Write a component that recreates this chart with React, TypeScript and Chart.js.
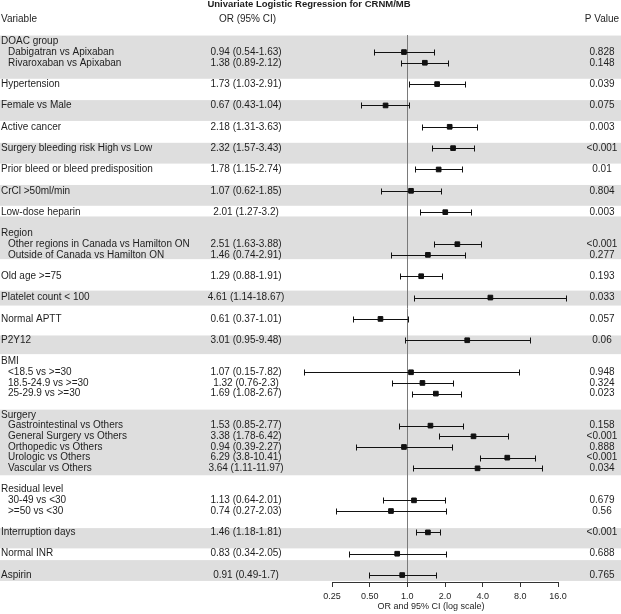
import React, { useEffect, useRef } from "react";
import { Chart, registerables } from "chart.js";

Chart.register(...registerables);

// ---------- DATA ----------
const chartTitle = "Univariate Logistic Regression for CRNM/MB";
const columnHeaders = ["Variable", "OR (95% CI)", "P Value"];
const axisTitle = "OR and 95% CI (log scale)";

const effectLabels = [
  "Dabigatran vs Apixaban",
  "Rivaroxaban vs Apixaban",
  "Hypertension",
  "Female vs Male",
  "Active cancer",
  "Surgery bleeding risk High vs Low",
  "Prior bleed or bleed predisposition",
  "CrCl >50ml/min",
  "Low-dose heparin",
  "Other regions in Canada vs Hamilton ON",
  "Outside of Canada vs Hamilton ON",
  "Old age >=75",
  "Platelet count < 100",
  "Normal APTT",
  "P2Y12",
  "<18.5 vs >=30",
  "18.5-24.9 vs >=30",
  "25-29.9 vs >=30",
  "Gastrointestinal vs Others",
  "General Surgery vs Others",
  "Orthopedic vs Others",
  "Urologic vs Others",
  "Vascular vs Others",
  "30-49 vs <30",
  ">=50 vs <30",
  "Interruption days",
  "Normal INR",
  "Aspirin",
];

const effectGroups: (string | null)[] = [
  "DOAC group", "DOAC group",
  null, null, null, null, null, null, null,
  "Region", "Region",
  null, null, null, null,
  "BMI", "BMI", "BMI",
  "Surgery", "Surgery", "Surgery", "Surgery", "Surgery",
  "Residual level", "Residual level",
  null, null, null,
];

const oddsRatios = [0.94, 1.38, 1.73, 0.67, 2.18, 2.32, 1.78, 1.07, 2.01, 2.51, 1.46, 1.29, 4.61, 0.61, 3.01, 1.07, 1.32, 1.69, 1.53, 3.38, 0.94, 6.29, 3.64, 1.13, 0.74, 1.46, 0.83, 0.91];
const ciLower = [0.54, 0.89, 1.03, 0.43, 1.31, 1.57, 1.15, 0.62, 1.27, 1.63, 0.74, 0.88, 1.14, 0.37, 0.95, 0.15, 0.76, 1.08, 0.85, 1.78, 0.39, 3.8, 1.11, 0.64, 0.27, 1.18, 0.34, 0.49];
const ciUpper = [1.63, 2.12, 2.91, 1.04, 3.63, 3.43, 2.74, 1.85, 3.2, 3.88, 2.91, 1.91, 18.67, 1.01, 9.48, 7.82, 2.3, 2.67, 2.77, 6.42, 2.27, 10.41, 11.97, 2.01, 2.03, 1.81, 2.05, 1.7];
const pValues = ["0.828", "0.148", "0.039", "0.075", "0.003", "<0.001", "0.01", "0.804", "0.003", "<0.001", "0.277", "0.193", "0.033", "0.057", "0.06", "0.948", "0.324", "0.023", "0.158", "<0.001", "0.888", "<0.001", "0.034", "0.679", "0.56", "<0.001", "0.688", "0.765"];

const tickValues = [0.25, 0.5, 1, 2, 4, 8, 16];
const tickLabels = ["0.25", "0.50", "1.0", "2.0", "4.0", "8.0", "16.0"];

// ---------- LAYOUT / STYLE ----------
const W = 621;
const H = 614;
const FONT = '"Liberation Sans", Arial, Helvetica, sans-serif';
const TEXT = "#1e1e1e";
const BAND = "#dedede";
// grey band extents in row units (layout styling)
const greyBands: [number, number][] = [
  [-0.55, 3.5], [5.5, 7.45], [9.5, 11.45], [13.45, 15.4], [16.4, 20.4],
  [23.35, 24.75], [27.55, 29.3], [34.5, 40.65], [45.6, 47.5], [48.6, 50.55],
];

type Row = { text: string; indent: boolean; effect: number | null; idx: number };

function buildRows(): Row[] {
  const rows: Row[] = [];
  let r = 0;
  let prev: string | null | undefined = undefined;
  effectLabels.forEach((lab, i) => {
    const grp = effectGroups[i];
    const isNew = grp === null || grp !== prev;
    if (isNew) {
      if (i > 0) r += 1;
      if (grp !== null) {
        rows.push({ text: grp, indent: false, effect: null, idx: r });
        r += 1;
      }
    }
    rows.push({ text: lab, indent: grp !== null, effect: i, idx: r });
    r += 1;
    prev = grp;
  });
  return rows;
}

export default function App() {
  const ref = useRef<HTMLCanvasElement | null>(null);

  useEffect(() => {
    if (!ref.current) return;
    const rows = buildRows();
    const effRows = rows.filter((r) => r.effect !== null);

    const forestPlugin = {
      id: "forestPlugin",
      beforeDraw(chart: any) {
        const { ctx, scales } = chart;
        const y = scales.y;
        ctx.save();
        ctx.fillStyle = BAND;
        greyBands.forEach(([a, b]) => {
          const y0 = y.getPixelForValue(a);
          const y1 = y.getPixelForValue(b);
          ctx.fillRect(0, y0, chart.width, y1 - y0);
        });
        ctx.restore();
      },
      beforeDatasetsDraw(chart: any) {
        const { ctx, scales, chartArea } = chart;
        const x = scales.x;
        const y = scales.y;
        ctx.save();
        // reference line at OR = 1
        const x1 = Math.round(x.getPixelForValue(1)) + 0.5;
        ctx.strokeStyle = "#7a7a7a";
        ctx.lineWidth = 1;
        ctx.beginPath();
        ctx.moveTo(x1, chartArea.top);
        ctx.lineTo(x1, chartArea.bottom);
        ctx.stroke();
        // whiskers
        ctx.strokeStyle = "#111";
        ctx.lineWidth = 1;
        effRows.forEach((r) => {
          const e = r.effect as number;
          const py = Math.round(y.getPixelForValue(r.idx)) + 0.5;
          const xl = Math.round(x.getPixelForValue(ciLower[e])) + 0.5;
          const xh = Math.round(x.getPixelForValue(ciUpper[e])) + 0.5;
          ctx.beginPath();
          ctx.moveTo(xl, py);
          ctx.lineTo(xh, py);
          ctx.moveTo(xl, py - 3);
          ctx.lineTo(xl, py + 3);
          ctx.moveTo(xh, py - 3);
          ctx.lineTo(xh, py + 3);
          ctx.stroke();
        });
        ctx.restore();
      },
      afterDraw(chart: any) {
        const { ctx, scales } = chart;
        const y = scales.y;
        ctx.save();
        ctx.fillStyle = TEXT;
        ctx.textBaseline = "middle";
        // title
        ctx.font = `bold 9.5px ${FONT}`;
        ctx.textAlign = "center";
        ctx.fillText(chartTitle, 309, 4.5);
        // headers
        ctx.font = `10px ${FONT}`;
        ctx.textAlign = "left";
        ctx.fillText(columnHeaders[0], 1, 19.5);
        ctx.textAlign = "center";
        ctx.fillText(columnHeaders[1], 247.5, 19.5);
        ctx.fillText(columnHeaders[2], 602, 19.5);
        // rows
        rows.forEach((r) => {
          const py = y.getPixelForValue(r.idx);
          ctx.textAlign = "left";
          ctx.fillText(r.text, r.indent ? 8 : 1, py);
          if (r.effect !== null) {
            const e = r.effect;
            ctx.textAlign = "center";
            ctx.fillText(`${oddsRatios[e]} (${ciLower[e]}-${ciUpper[e]})`, 246, py);
            ctx.fillText(pValues[e], 602, py);
          }
        });
        // axis title
        ctx.font = `9px ${FONT}`;
        ctx.textAlign = "center";
        ctx.fillText(axisTitle, 431, 606.5);
        ctx.restore();
      },
    };

    const chart = new Chart(ref.current, {
      type: "scatter",
      data: {
        datasets: [
          {
            data: effRows.map((r) => ({ x: oddsRatios[r.effect as number], y: r.idx })),
            pointStyle: "rect",
            pointRadius: 3.3,
            pointHoverRadius: 3.3,
            backgroundColor: "#111",
            borderColor: "#111",
            borderWidth: 1,
            clip: false as any,
          },
        ],
      },
      options: {
        animation: false,
        responsive: false,
        devicePixelRatio: 1,
        events: [],
        layout: { padding: { left: 332, right: W - 558, top: 35, bottom: 0 } },
        plugins: { legend: { display: false }, tooltip: { enabled: false }, title: { display: false } },
        scales: {
          x: {
            type: "logarithmic",
            min: 0.25,
            max: 16,
            position: "bottom",
            afterBuildTicks: (s: any) => {
              s.ticks = tickValues.map((v) => ({ value: v }));
            },
            afterFit: (s: any) => {
              s.height = 32;
            },
            ticks: {
              callback: (_v: any, i: number) => tickLabels[i],
              font: { size: 9, family: FONT },
              color: TEXT,
              padding: 4.5,
              maxRotation: 0,
              autoSkip: false,
            },
            grid: { display: true, drawOnChartArea: false, drawTicks: true, tickLength: 5, color: "#333", lineWidth: 1 },
            border: { display: true, color: "#333", width: 1 },
          } as any,
          y: { type: "linear", reverse: true, min: -0.6, max: 50.65, display: false },
        },
      },
      plugins: [forestPlugin],
    });
    return () => chart.destroy();
  }, []);

  return (
    <canvas
      ref={ref}
      width={W}
      height={H}
      style={{ position: "absolute", left: 0, top: 0, width: W, height: H, background: "#fff" }}
    />
  );
}
